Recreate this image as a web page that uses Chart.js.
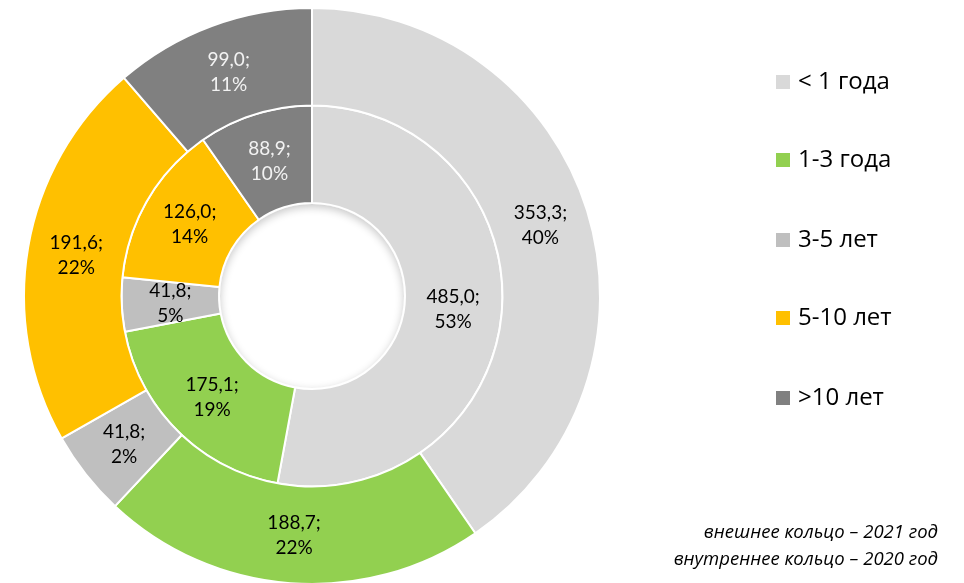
<!DOCTYPE html>
<html lang="ru">
<head>
<meta charset="utf-8">
<title>Структура по срокам</title>
<script src="https://cdn.jsdelivr.net/npm/chart.js@4.4.1/dist/chart.umd.min.js"></script>
<style>
    html, body {
        margin: 0;
        padding: 0;
        background: #ffffff;
        overflow: hidden;
    }

    #wrap {
        position: relative;
        width: 964px;
        height: 583px;
    }

    #chart {
        position: absolute;
        left: 0;
        top: 0;
    }

    #legend {
        position: absolute;
        left: 776px;
        top: 0;
        font-family: "Open Sans", Lato, sans-serif;
        font-size: 24px;
        color: #000000;
    }

    #legend .item {
        position: absolute;
        left: 0;
        white-space: nowrap;
        line-height: 26px;
        height: 26px;
    }

    #legend .box {
        position: absolute;
        left: 0;
        top: 5px;
        width: 14px;
        height: 14px;
    }

    #legend .text {
        position: absolute;
        left: 22px;
        top: -3px;
    }

    #note {
        position: absolute;
        right: 26px;
        top: 517px;
        text-align: right;
        font-family: "Open Sans", Lato, sans-serif;
        font-style: italic;
        font-size: 18.5px;
        line-height: 27px;
        color: #000000;
        white-space: nowrap;
    }
</style>
</head>
<body>
<div id="wrap">
    <canvas id="chart" width="964" height="590"></canvas>
    <div id="legend"></div>
    <div id="note">внешнее кольцо – 2021 год<br>внутреннее кольцо – 2020 год</div>
</div>
<script>
    // Age groups and their colours
    const categories = ["< 1 года", "1-3 года", "3-5 лет", "5-10 лет", ">10 лет"];
    const colors     = ["#d9d9d9", "#92d050", "#bfbfbf", "#ffc000", "#808080"];
    const labelColors = ["#000000", "#000000", "#000000", "#000000", "#f2f2f2"];

    // Outer ring, 2021
    const values2021 = [353.3, 188.7, 41.8, 191.6, 99.0];
    const shares2021 = [40, 22, 2, 22, 11];

    // Inner ring, 2020
    const values2020 = [485.0, 175.1, 41.8, 126.0, 88.9];
    const shares2020 = [53, 19, 5, 14, 10];

    const legendY = [70, 148, 228, 306, 386];

    /**
     * Formats a number with a decimal comma.
     *
     * @param {number} value
     *
     * @returns {string}
     */
    function formatValue(value)
    {
        return value.toFixed(1).replace(".", ",");
    }

    // Draws "value; share%" in the middle of every arc
    const arcLabels = {
        id: "arcLabels",
        afterDatasetsDraw(chart)
        {
            const ctx = chart.ctx;

            ctx.save();
            ctx.font = "19px Lato, 'Open Sans', sans-serif";
            ctx.textAlign = "center";
            ctx.textBaseline = "middle";

            chart.data.datasets.forEach((dataset, di) => {
                const meta = chart.getDatasetMeta(di);

                meta.data.forEach((arc, i) => {
                    const pos = arc.tooltipPosition();

                    ctx.fillStyle = labelColors[i];
                    ctx.fillText(formatValue(dataset.data[i]) + ";", pos.x, pos.y - 12);
                    ctx.fillText(dataset.shares[i] + "%", pos.x, pos.y + 13);
                });
            });

            ctx.restore();
        }
    };

    // Soft inner shadow along the edge of the centre hole
    const holeShadow = {
        id: "holeShadow",
        afterDatasetsDraw(chart)
        {
            const arc = chart.getDatasetMeta(1).data[0];

            if (!arc) {
                return;
            }

            const ctx = chart.ctx;
            const r   = arc.innerRadius - 1;

            ctx.save();
            ctx.beginPath();
            ctx.arc(arc.x, arc.y, r, 0, Math.PI * 2);
            ctx.clip();

            ctx.beginPath();
            ctx.arc(arc.x, arc.y, r + 20, 0, Math.PI * 2);
            ctx.lineWidth = 40;
            ctx.strokeStyle = "#ffffff";
            ctx.shadowColor = "rgba(0, 0, 0, 0.22)";
            ctx.shadowBlur = 9;
            ctx.shadowOffsetY = 3;
            ctx.stroke();
            ctx.restore();
        }
    };

    new Chart(document.getElementById("chart"), {
        type: "doughnut",
        data: {
            labels: categories,
            datasets: [
                {
                    label: "2021",
                    data: values2021,
                    shares: shares2021,
                    backgroundColor: colors,
                    borderColor: "#ffffff",
                    borderWidth: 2
                },
                {
                    label: "2020",
                    data: values2020,
                    shares: shares2020,
                    backgroundColor: colors,
                    borderColor: "#ffffff",
                    borderWidth: 2
                }
            ]
        },
        options: {
            responsive: false,
            animation: false,
            events: [],
            cutout: 93,
            layout: {
                padding: { left: 23, right: 363, top: 7, bottom: 5 }
            },
            plugins: {
                legend: { display: false },
                tooltip: { enabled: false }
            }
        },
        plugins: [holeShadow, arcLabels]
    });

    // Legend on the right
    const legend = document.getElementById("legend");

    categories.forEach((name, i) => {
        const item = document.createElement("div");
        item.className = "item";
        item.style.top = legendY[i] + "px";
        item.innerHTML = '<span class="box"></span><span class="text"></span>';
        item.querySelector(".box").style.background = colors[i];
        item.querySelector(".text").textContent = name;
        legend.appendChild(item);
    });
</script>
</body>
</html>
